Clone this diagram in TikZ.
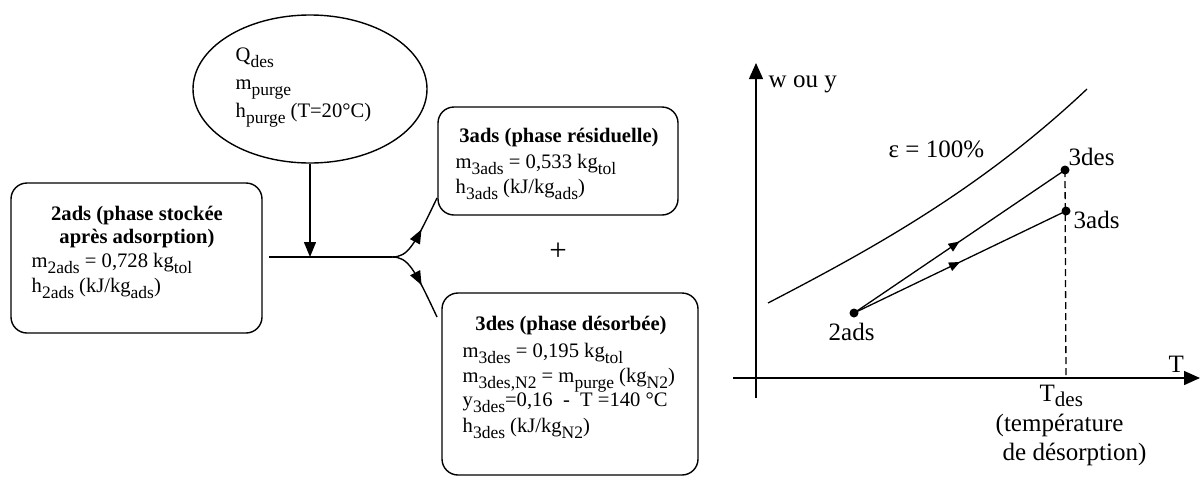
\documentclass[tikz,border=0pt]{standalone}
\usepackage{fontspec}
\setmainfont{Liberation Serif}
\usetikzlibrary{shapes.geometric,arrows.meta,decorations.markings}
\newcommand\bx{\fontsize{20.6}{25}\selectfont}
\newcommand\gr{\fontsize{25}{30}\selectfont}
\newcommand\sbs[1]{\raisebox{-0.3em}{\fontsize{17.5}{17.5}\selectfont #1}}
\newcommand\gsbs[1]{\raisebox{-0.2em}{\fontsize{21}{21}\selectfont #1}}
\begin{document}
\begin{tikzpicture}[x=1pt,y=-1pt,line width=1.4pt,
  txt/.style={inner sep=0pt,anchor=base west,font=\bx},
  ctxt/.style={inner sep=0pt,anchor=base,font=\bx\bfseries},
  gtxt/.style={inner sep=0pt,anchor=base west,font=\gr},
  rbox/.style={draw,rounded corners=16pt,inner sep=0pt},
  bigtip/.style={-{Triangle[length=16pt,width=14pt]}},
  midarrow/.style={postaction={decorate},decoration={markings,
     mark=at position #1 with {\arrow{Triangle[length=14pt,width=11pt]}}}},
  smallmid/.style={postaction={decorate},decoration={markings,
     mark=at position #1 with {\arrow{Triangle[length=11pt,width=9pt]}}}},
  dot/.style={circle,fill,inner sep=0pt,minimum size=9pt}]
\useasboundingbox (0,0) rectangle (1201,477);

% ---- left part: balance diagram ----
\node[draw,ellipse,minimum width=234pt,minimum height=148pt,inner sep=0pt] (ell) at (310,89) {};
\node[txt] (q) at (235,61) {Q\sbs{des}};
\node[txt] (mp) at (235,89) {m\sbs{purge}};
\node[txt] (hp) at (235,117) {h\sbs{purge} (T=20°C)};

\node[rbox,minimum width=251pt,minimum height=150pt] (b2) at (136.5,258) {};
\node[ctxt] (b2t1) at (137,220) {2ads (phase stockée};
\node[ctxt] (b2t2) at (137,243) {après adsorption)};
\node[txt] (b2m) at (31,267) {m\sbs{2ads} = 0,728 kg\sbs{tol}};
\node[txt] (b2h) at (31,292) {h\sbs{2ads} (kJ/kg\sbs{ads})};

\node[rbox,minimum width=240pt,minimum height=108pt] (b3a) at (558,161) {};
\node[ctxt] (b3at) at (559,142) {3ads (phase résiduelle)};
\node[txt] (b3am) at (455,168) {m\sbs{3ads} = 0,533 kg\sbs{tol}};
\node[txt] (b3ah) at (455,193) {h\sbs{3ads} (kJ/kg\sbs{ads})};

\node[inner sep=0pt,font=\fontsize{31}{31}\selectfont] (plus) at (558,252) {+};

\node[rbox,minimum width=256pt,minimum height=182pt] (b3d) at (570,384) {};
\node[ctxt] (b3dt) at (571,330) {3des (phase désorbée)};
\node[txt] (b3dm) at (462,357) {m\sbs{3des} = 0,195 kg\sbs{tol}};
\node[txt] (b3dn) at (462,382) {m\sbs{3des,N2} = m\sbs{purge} (kg\sbs{N2})};
\node[txt] (b3dy) at (462,406) {y\sbs{3des}=0,16~~-~~T =140 °C};
\node[txt] (b3dh) at (462,432) {h\sbs{3des} (kJ/kg\sbs{N2})};

\coordinate (jl) at (269,257);
\coordinate (jm) at (310,257);
\coordinate (jr) at (392,257);
\coordinate (e3a) at (437,198);
\coordinate (e3d) at (437,317);
\draw (jl) -- (jr);
\draw[-{Triangle[length=15pt,width=12pt]}] (ell.south) -- (jm);
\draw[midarrow=0.55] (jr) .. controls (408,257) and (414,246) .. (e3a);
\draw[midarrow=0.55] (jr) .. controls (408,257) and (414,268) .. (e3d);

% ---- right part: graph ----
\coordinate (ybot) at (756,398);
\coordinate (ytop) at (756,63);
\coordinate (xl) at (733,378);
\coordinate (xr) at (1200,378);
\draw[bigtip] (ybot) -- (ytop);
\draw[bigtip] (xl) -- (xr);
\node[gtxt] (wy) at (768,87) {w ou y};
\node[gtxt] (tl) at (1168,372) {T};

\coordinate (c0) at (768,303);
\coordinate (c1) at (1087,89);
\draw[line width=1.3pt] (c0) .. controls (870,250) and (980,190) .. (c1);
\node[gtxt] (eps) at (888,157) {ε = 100\%};

\node[dot] (p2) at (854,313) {};
\node[dot] (p3d) at (1065,170) {};
\node[dot] (p3a) at (1066,211) {};
\coordinate (pt) at (1066,378);
\draw[line width=1.3pt,smallmid=0.5] (p2.center) -- (p3d.center);
\draw[line width=1.3pt,smallmid=0.5] (p2.center) -- (p3a.center);
\draw[line width=1.3pt,dash pattern=on 7pt off 4pt] (p3d.center) -- (pt);

\node[gtxt] (l3d) at (1068,165) {3des};
\node[gtxt] (l3a) at (1073,228) {3ads};
\node[gtxt] (l2) at (828,340) {2ads};
\node[gtxt] (ltd) at (1039,401) {T\gsbs{des}};
\node[gtxt] (ltemp) at (995,431) {(température};
\node[gtxt] (ldes) at (1002,460) {de désorption)};
\end{tikzpicture}
\end{document}
